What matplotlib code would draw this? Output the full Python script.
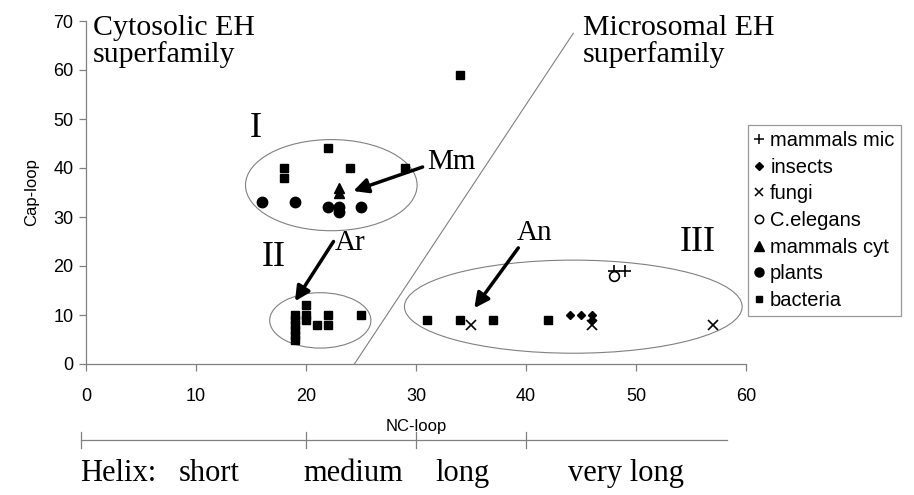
import matplotlib
matplotlib.use("Agg")
import matplotlib.pyplot as plt
from matplotlib.patches import Ellipse
from matplotlib.lines import Line2D

# data (NC-loop, Cap-loop)
mammals_mic_x = [48, 49]
mammals_mic_y = [19, 19]
insects_x = [44, 45, 46, 46]
insects_y = [10, 10, 10, 9]
fungi_x = [35, 46, 57]
fungi_y = [8, 8, 8]
celegans_x = [48]
celegans_y = [18]
mammals_cyt_x = [23, 23]
mammals_cyt_y = [36, 35]
plants_x = [16, 19, 22, 23, 23, 25]
plants_y = [33, 33, 32, 32, 31, 32]
bacteria_x = [18, 18, 22, 24, 29, 34,
              19, 19, 19, 19, 19, 19, 20, 20, 20, 21, 22, 22, 25,
              31, 34, 37, 42]
bacteria_y = [40, 38, 44, 40, 40, 59,
              5, 6, 7, 8, 9, 10, 12, 10, 9, 8, 8, 10, 10,
              9, 9, 9, 9]

helix_ticks = [0, 20, 30, 40]
helix_end = 58.3
helix_labels = ["Helix:", "short", "medium", "long", "very long"]
helix_label_x = [-0.5, 8.4, 19.8, 31.8, 43.8]

serif = "Liberation Serif"
sans = "Liberation Sans"

fig = plt.figure(figsize=(9.14, 4.95), dpi=100)
ax = fig.add_axes([86 / 914, 1 - 364 / 495, 660 / 914, 343 / 495])
ax.set_xlim(0, 60)
ax.set_ylim(0, 70)

gray = "#808080"
for s in ["top", "right"]:
    ax.spines[s].set_visible(False)
for s in ["left", "bottom"]:
    ax.spines[s].set_color(gray)
    ax.spines[s].set_linewidth(0.9)
ax.set_xticks(range(0, 61, 10))
ax.set_yticks(range(0, 71, 10))
ax.tick_params(colors=gray, labelcolor="black", length=5, width=0.9,
               labelsize=13, pad=12)
ax.tick_params(axis="y", pad=4)
for lab in ax.get_xticklabels() + ax.get_yticklabels():
    lab.set_fontfamily(sans)
ax.set_xlabel("NC-loop", fontsize=12, fontfamily=sans, labelpad=10)
ax.set_ylabel("Cap-loop", fontsize=12, fontfamily=sans, labelpad=10)

# series
ax.plot(mammals_mic_x, mammals_mic_y, "+", color="black", ms=8, mew=1.2, clip_on=False)
ax.plot(insects_x, insects_y, "D", color="black", ms=4.5, clip_on=False)
ax.plot(fungi_x, fungi_y, "x", color="black", ms=7, mew=1.2, clip_on=False)
ax.plot(celegans_x, celegans_y, "o", mfc="white", mec="black", ms=7, mew=1.2)
ax.plot(mammals_cyt_x, mammals_cyt_y, "^", color="black", ms=7.5)
ax.plot(plants_x, plants_y, "o", color="black", ms=7.5)
ax.plot(bacteria_x, bacteria_y, "s", color="black", ms=5.8)

# group ellipses
ax.add_patch(Ellipse((22.3, 36.5), 15.6, 18.6, fill=False, ec=gray, lw=0.8))
ax.add_patch(Ellipse((21.3, 8.9), 9.2, 11.3, fill=False, ec=gray, lw=0.8))
ax.add_patch(Ellipse((44.3, 11.7), 30.7, 19.0, fill=False, ec=gray, lw=0.8))

# superfamily divider
ax.plot([24.4, 44.3], [0, 67.5], color=gray, lw=0.8)

ax.text(0.6, 71.3, "Cytosolic EH\nsuperfamily", fontsize=21.5, fontfamily=serif,
        va="top", linespacing=1.0)
ax.text(45.2, 71.3, "Microsomal EH\nsuperfamily", fontsize=21.5, fontfamily=serif,
        va="top", linespacing=1.0)

ax.text(14.9, 48.0, "I", fontsize=26, fontfamily=serif, va="center")
ax.text(16.0, 21.8, "II", fontsize=26, fontfamily=serif, va="center")
ax.text(54.0, 24.8, "III", fontsize=26, fontfamily=serif, va="center")

arrow = dict(arrowstyle="-|>", color="black", lw=2.5, mutation_scale=22,
             shrinkA=0, shrinkB=0)
ax.annotate("", xy=(24.3, 35.3), xytext=(30.6, 40.2), arrowprops=arrow)
ax.text(31.0, 41.2, "Mm", fontsize=21, fontfamily=serif, va="center")
ax.annotate("", xy=(19.0, 12.8), xytext=(22.5, 25.0), arrowprops=arrow)
ax.text(22.6, 24.6, "Ar", fontsize=21, fontfamily=serif, va="center")
ax.annotate("", xy=(35.3, 11.4), xytext=(39.3, 23.7), arrowprops=arrow)
ax.text(39.2, 26.8, "An", fontsize=21, fontfamily=serif, va="center")

# helix length scale under the axis
y_line = -15.5
ax.plot([helix_ticks[0] - 0.5, helix_end], [y_line, y_line], color=gray,
        lw=0.9, clip_on=False)
for t in helix_ticks:
    xt = t - 0.5 if t == 0 else t
    ax.plot([xt, xt], [y_line + 1.6, y_line - 1.6], color=gray, lw=0.9,
            clip_on=False)
for lx, lab in zip(helix_label_x, helix_labels):
    ax.text(lx, -22.4, lab, fontsize=22, fontfamily=serif, va="center")

# legend (smaller markers than in the plot, as in the original)
handles = [
    Line2D([], [], ls="", marker="+", color="black", ms=7, mew=1.1),
    Line2D([], [], ls="", marker="D", color="black", ms=4),
    Line2D([], [], ls="", marker="x", color="black", ms=6, mew=1.1),
    Line2D([], [], ls="", marker="o", mfc="white", mec="black", ms=6, mew=1.1),
    Line2D([], [], ls="", marker="^", color="black", ms=6.5),
    Line2D([], [], ls="", marker="o", color="black", ms=6.5),
    Line2D([], [], ls="", marker="s", color="black", ms=5),
]
names = ["mammals mic", "insects", "fungi", "C.elegans", "mammals cyt",
         "plants", "bacteria"]
leg = fig.legend(handles, names, loc="upper left",
                 bbox_to_anchor=(748 / 914, 1 - 125 / 495),
                 prop={"family": sans, "size": 14.5}, frameon=True,
                 fancybox=False, edgecolor=gray, handlelength=0.45,
                 handletextpad=0.35, labelspacing=0.38, borderpad=0.3,
                 borderaxespad=0)
leg.get_frame().set_linewidth(0.9)

fig.savefig("out.png", dpi=100)
